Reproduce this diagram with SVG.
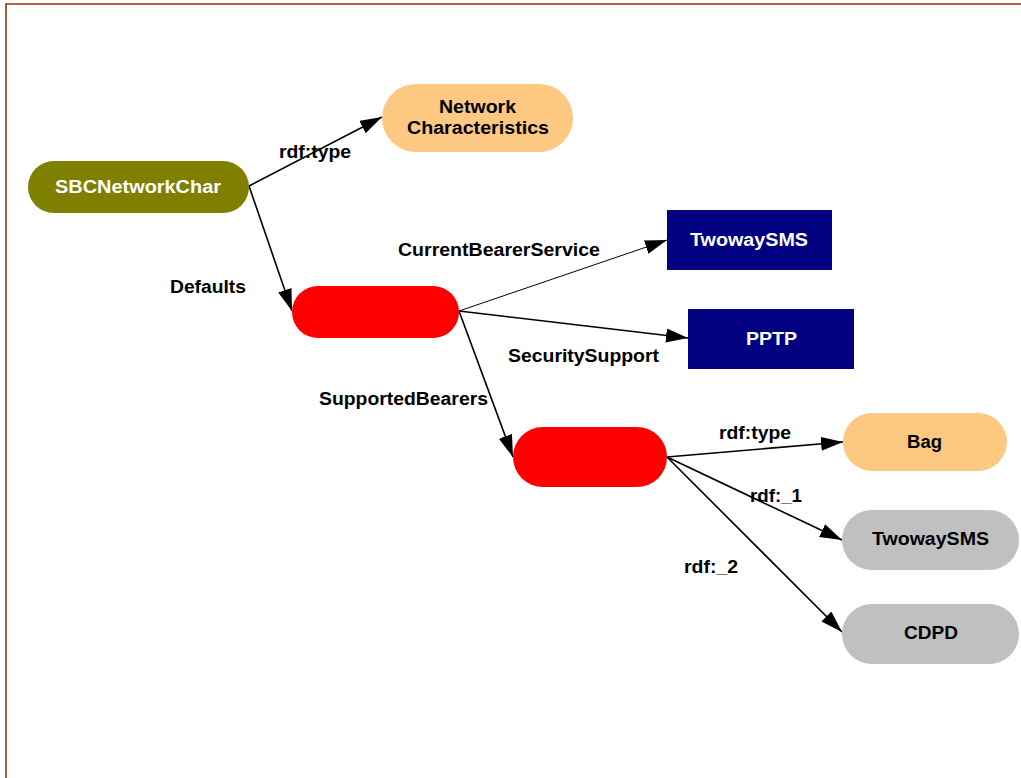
<svg xmlns="http://www.w3.org/2000/svg" width="1021" height="778" viewBox="0 0 1021 778">
<style>
text{font-family:"Liberation Sans",Arial,sans-serif;font-weight:bold;font-size:18px;text-anchor:middle}
.w{fill:#ffffff}
.b{fill:#000000}
.e{stroke:#000;stroke-width:1.6;fill:none;marker-end:url(#ah)}
.thin{stroke-width:1}
</style>
<defs>
<marker id="ah" markerUnits="userSpaceOnUse" markerWidth="24" markerHeight="16" refX="22" refY="7" orient="auto">
<path d="M0,0 L22,7 L0,14 Z" fill="#000"/>
</marker>
</defs>
<rect width="1021" height="778" fill="#fff"/>
<path d="M6,778 V4 H1021" fill="none" stroke="#993300" stroke-width="1.6"/>
<g id="edges">
<line class="e" x1="249" y1="186" x2="382" y2="117"/>
<line class="e" x1="249" y1="186" x2="292" y2="311"/>
<line class="e thin" x1="459" y1="311" x2="667" y2="240"/>
<line class="e" x1="459" y1="311" x2="688" y2="338"/>
<line class="e" x1="459" y1="311" x2="513" y2="457"/>
<line class="e" x1="667" y1="457" x2="843" y2="442"/>
<line class="e" x1="667" y1="457" x2="842" y2="540"/>
<line class="e" x1="667" y1="457" x2="842" y2="632"/>
<text x="315" y="158" textLength="72" lengthAdjust="spacingAndGlyphs">rdf:type</text>
<text x="208" y="293" textLength="76" lengthAdjust="spacingAndGlyphs">Defaults</text>
<text x="499" y="256" textLength="202" lengthAdjust="spacingAndGlyphs">CurrentBearerService</text>
<text x="583.5" y="362" textLength="151" lengthAdjust="spacingAndGlyphs">SecuritySupport</text>
<text x="403.5" y="405" textLength="169" lengthAdjust="spacingAndGlyphs">SupportedBearers</text>
<text x="755" y="439" textLength="72" lengthAdjust="spacingAndGlyphs">rdf:type</text>
<text x="776" y="502" textLength="52" lengthAdjust="spacingAndGlyphs">rdf:_1</text>
<text x="711" y="573" textLength="54" lengthAdjust="spacingAndGlyphs">rdf:_2</text>
</g>
<g id="n1"><rect x="28" y="161" width="221" height="52" rx="26" fill="#808000"/><text class="w" x="138" y="193" textLength="166" lengthAdjust="spacingAndGlyphs">SBCNetworkChar</text></g>
<g id="n2"><rect x="382" y="84" width="191" height="68" rx="34" fill="#fcc882"/><text class="b" x="477.5" y="113" textLength="77" lengthAdjust="spacingAndGlyphs">Network</text><text class="b" x="478" y="134" textLength="142" lengthAdjust="spacingAndGlyphs">Characteristics</text></g>
<g id="n3"><rect x="292" y="286" width="167" height="52" rx="26" fill="#ff0000"/></g>
<g id="n4"><rect x="667" y="210" width="165" height="60" fill="#000080"/><text class="w" x="749" y="246" textLength="118" lengthAdjust="spacingAndGlyphs">TwowaySMS</text></g>
<g id="n5"><rect x="688" y="309" width="166" height="60" fill="#000080"/><text class="w" x="771.5" y="345" textLength="51" lengthAdjust="spacingAndGlyphs">PPTP</text></g>
<g id="n6"><rect x="513" y="427" width="154" height="60" rx="30" fill="#ff0000"/></g>
<g id="n7"><rect x="843" y="413" width="164" height="58" rx="29" fill="#fcc882"/><text class="b" x="924.5" y="448" textLength="35" lengthAdjust="spacingAndGlyphs">Bag</text></g>
<g id="n8"><rect x="842" y="510" width="177" height="60" rx="30" fill="#c0c0c0"/><text class="b" x="930.5" y="545" textLength="117" lengthAdjust="spacingAndGlyphs">TwowaySMS</text></g>
<g id="n9"><rect x="842" y="604" width="177" height="60" rx="30" fill="#c0c0c0"/><text class="b" x="931" y="639" textLength="54" lengthAdjust="spacingAndGlyphs">CDPD</text></g>
</svg>
